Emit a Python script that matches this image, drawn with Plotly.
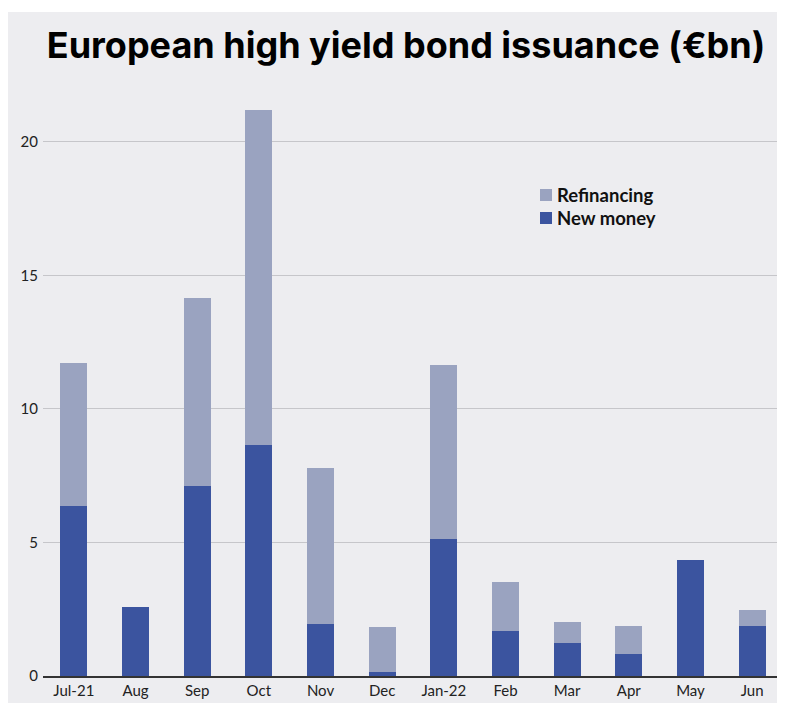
import plotly.graph_objects as go

months = ["Jul-21", "Aug", "Sep", "Oct", "Nov", "Dec", "Jan-22", "Feb", "Mar", "Apr", "May", "Jun"]
new_money = [6.37, 2.58, 7.12, 8.65, 1.95, 0.15, 5.13, 1.69, 1.24, 0.82, 4.34, 1.87]
total = [11.72, 2.58, 14.16, 21.2, 7.79, 1.84, 11.65, 3.52, 2.02, 1.87, 4.34, 2.47]
refinancing = [round(t - n, 2) for t, n in zip(total, new_money)]
y_ticks = [0, 5, 10, 15, 20]

BG = "#ededf0"
C_NEW = "#3b549f"
C_REF = "#9aa3c0"

W, H = 777, 698
L, R, T, B = 35, 2, 67, 30
PW, PH = W - L - R, H - T - B


def px(fx):
    return (fx - L) / PW


def py(fy):
    return (H - B - fy) / PH


fig = go.Figure()
fig.add_trace(go.Bar(x=months, y=new_money, name="New money", marker_color=C_NEW,
                     marker_line_width=0))
fig.add_trace(go.Bar(x=months, y=refinancing, name="Refinancing", marker_color=C_REF,
                     marker_line_width=0))

shapes = [dict(type="rect", xref="paper", yref="paper", x0=px(-10), x1=px(774), y0=py(695), y1=py(4),
               fillcolor=BG, line_width=0, layer="below")]
annotations = []
for i, (name, col) in enumerate([("Refinancing", C_REF), ("New money", C_NEW)]):
    cy = 187 + 23 * i
    shapes.append(dict(type="rect", xref="paper", yref="paper", x0=px(532), x1=px(544),
                       y0=py(cy + 6), y1=py(cy - 6), fillcolor=col, line_width=0))
    annotations.append(dict(text=f"<b>{name}</b>", xref="paper", yref="paper", x=px(547), y=py(cy),
                            xanchor="left", yanchor="middle", showarrow=False,
                            font=dict(family="Lato", size=18.5, color="#111")))

fig.update_layout(
    width=W, height=H,
    barmode="stack", bargap=0.56,
    paper_bgcolor="white", plot_bgcolor=BG,
    margin=dict(l=L, r=R, t=T, b=B),
    font=dict(family="Lato", size=15, color="#222"),
    title=dict(text="<b>European high yield bond issuance (€bn)</b>",
               font=dict(family="Inter", size=36, color="#000", weight=900),
               x=398 / W, xanchor="center", y=1 - 37 / H, yanchor="middle"),
    showlegend=False,
    shapes=shapes,
    annotations=annotations,
)
fig.update_yaxes(range=[0, 22.5], tickvals=y_ticks, showgrid=True, gridcolor="#c6c6ca", gridwidth=1,
                 zeroline=False, showline=False, ticks="", ticklabelstandoff=4,
                 tickfont=dict(family="Lato", size=15, color="#222"))
fig.update_xaxes(showline=True, linecolor="#333", linewidth=1.5, ticks="",
                 tickfont=dict(family="Lato", size=15, color="#222"))

fig.write_html("out.html")
